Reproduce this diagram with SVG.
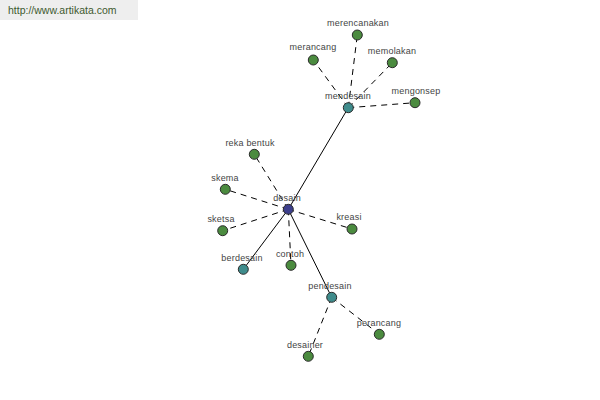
<svg xmlns="http://www.w3.org/2000/svg" width="600" height="400" viewBox="0 0 600 400">
<style>
text{font-family:"Liberation Sans",Arial,sans-serif;font-size:9px;fill:#444;text-anchor:middle;letter-spacing:0.2px}
.n{stroke:#2a2a2a;stroke-width:1}
.g{fill:#4b8b3f}
.t{fill:#3f8c8c}
.b{fill:#3d3f8c}
.s{stroke:#000;stroke-width:1;fill:none}
.d{stroke:#000;stroke-width:1;fill:none;stroke-dasharray:6,5}
</style>
<rect width="600" height="400" fill="#fff"/>
<g id="header">
<rect x="0" y="0" width="138" height="20" fill="#eeeeee"/>
<text x="8" y="14" style="text-anchor:start;font-size:10.5px;fill:#3e5a2e;letter-spacing:0">http://www.artikata.com</text>
</g>
<g id="connectors">
<line class="s" x1="288.3" y1="209.3" x2="348.3" y2="107.7"/>
<line class="s" x1="288.3" y1="209.3" x2="243.3" y2="269.3"/>
<line class="s" x1="288.3" y1="209.3" x2="331.7" y2="297.3"/>
<line class="d" x1="288.3" y1="209.3" x2="254.3" y2="154.3"/>
<line class="d" x1="288.3" y1="209.3" x2="225.3" y2="189.3"/>
<line class="d" x1="288.3" y1="209.3" x2="222.7" y2="230.7"/>
<line class="d" x1="288.3" y1="209.3" x2="352" y2="229"/>
<line class="d" x1="288.3" y1="209.3" x2="291" y2="265.3"/>
<line class="d" x1="348.3" y1="107.7" x2="357.3" y2="35"/>
<line class="d" x1="348.3" y1="107.7" x2="313.3" y2="60"/>
<line class="d" x1="348.3" y1="107.7" x2="392.3" y2="62.7"/>
<line class="d" x1="348.3" y1="107.7" x2="415" y2="102.7"/>
<line class="d" x1="331.7" y1="297.3" x2="308.3" y2="356.3"/>
<line class="d" x1="331.7" y1="297.3" x2="379.3" y2="334.3"/>
</g>
<g id="desain"><circle class="n b" cx="288.3" cy="209.3" r="5"/><text x="287" y="201">desain</text></g>
<g id="mendesain"><circle class="n t" cx="348.3" cy="107.7" r="5"/><text x="348" y="99">mendesain</text></g>
<g id="berdesain"><circle class="n t" cx="243.3" cy="269.3" r="5"/><text x="242" y="261">berdesain</text></g>
<g id="pendesain"><circle class="n t" cx="331.7" cy="297.3" r="5"/><text x="330" y="289">pendesain</text></g>
<g id="merencanakan"><circle class="n g" cx="357.3" cy="35" r="5"/><text x="358" y="26">merencanakan</text></g>
<g id="merancang"><circle class="n g" cx="313.3" cy="60" r="5"/><text x="313" y="50">merancang</text></g>
<g id="memolakan"><circle class="n g" cx="392.3" cy="62.7" r="5"/><text x="392" y="54">memolakan</text></g>
<g id="mengonsep"><circle class="n g" cx="415" cy="102.7" r="5"/><text x="416" y="94">mengonsep</text></g>
<g id="reka-bentuk"><circle class="n g" cx="254.3" cy="154.3" r="5"/><text x="250" y="146">reka bentuk</text></g>
<g id="skema"><circle class="n g" cx="225.3" cy="189.3" r="5"/><text x="225" y="181">skema</text></g>
<g id="sketsa"><circle class="n g" cx="222.7" cy="230.7" r="5"/><text x="221" y="222">sketsa</text></g>
<g id="kreasi"><circle class="n g" cx="352" cy="229" r="5"/><text x="349" y="220">kreasi</text></g>
<g id="contoh"><circle class="n g" cx="291" cy="265.3" r="5"/><text x="290" y="257">contoh</text></g>
<g id="desainer"><circle class="n g" cx="308.3" cy="356.3" r="5"/><text x="305" y="348">desainer</text></g>
<g id="perancang"><circle class="n g" cx="379.3" cy="334.3" r="5"/><text x="379" y="326">perancang</text></g>
</svg>
